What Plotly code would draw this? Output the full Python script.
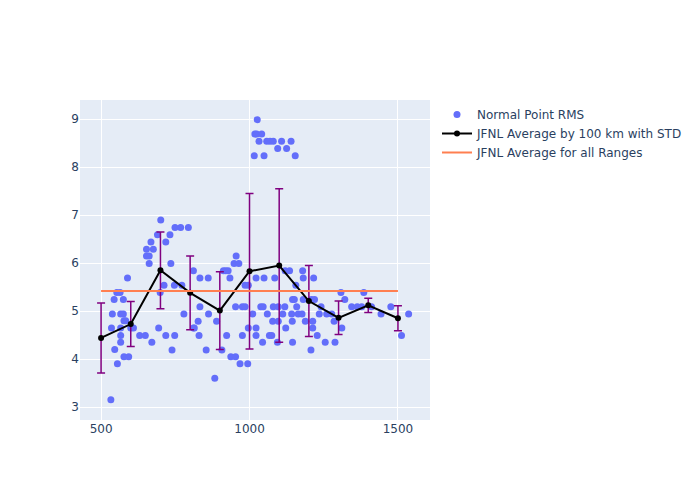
import plotly.graph_objects as go

# Normal point RMS scatter (range km, RMS)
pt_x = [533, 555, 546, 566, 566, 535, 566, 577, 583, 538, 566, 575, 544, 575, 553, 564, 589,
        577, 593, 600, 609, 630, 649, 671, 694, 699, 712, 718, 748, 739, 747, 772, 735, 718,
        732, 690, 653, 676, 668, 653, 662, 662, 701, 749, 768, 794, 811, 833, 861, 833, 779,
        811, 814, 827, 830, 854, 862, 883, 889, 907, 923, 912, 920, 928, 934, 955, 948, 964,
        953, 976, 985, 976, 937, 953, 968, 994, 985, 996, 1011, 996, 1022, 1022, 1022, 1016,
        1018, 1024, 1026, 1032, 1041, 1058, 1069, 1080, 1108, 1140, 1095, 1125, 1049, 1154,
        1049, 1085, 1120, 1135, 1179, 1181, 1216, 1156, 1145, 1151, 1181, 1209, 1219, 1038,
        1046, 1080, 1097, 1119, 1159, 1241, 1060, 1112, 1142, 1164, 1177, 1235, 1260, 1277,
        1078, 1097, 1144, 1188, 1213, 1285, 1122, 1213, 1311, 1067, 1075, 1228, 1044, 1094,
        1145, 1255, 1288, 1207, 1308, 1321, 1344, 1363, 1378, 1411, 1385, 1443, 1476, 1512,
        1536]
pt_y = [3.15, 3.90, 4.20, 4.35, 4.49, 4.65, 4.65, 4.80, 4.80, 4.94, 4.94, 4.94, 5.24, 5.24,
        5.39, 5.39, 5.69, 4.05, 4.05, 4.65, 4.65, 4.49, 4.49, 4.35, 4.65, 5.39, 5.54, 4.49,
        4.49, 4.19, 5.54, 5.54, 5.99, 6.44, 6.59, 6.59, 6.29, 6.29, 6.44, 6.15, 6.15, 5.99,
        6.90, 6.74, 6.74, 6.74, 5.84, 5.69, 5.69, 5.09, 4.94, 4.65, 4.65, 4.79, 4.49, 4.19,
        4.94, 3.60, 4.79, 4.19, 4.49, 5.84, 5.84, 5.84, 5.69, 6.15, 5.99, 5.99, 5.09, 5.09,
        5.09, 4.49, 4.05, 4.05, 3.90, 3.90, 5.54, 5.54, 4.94, 4.65, 4.65, 5.69, 4.49, 8.24,
        8.69, 8.69, 8.99, 8.54, 8.69, 8.54, 8.54, 8.54, 8.54, 8.54, 8.39, 8.39, 8.24, 8.24,
        5.69, 5.69, 5.84, 5.84, 5.84, 5.69, 5.69, 5.54, 5.24, 5.24, 5.24, 5.24, 5.24, 5.09,
        5.09, 5.09, 5.09, 5.09, 5.09, 5.09, 4.94, 4.94, 4.94, 4.94, 4.94, 4.94, 4.94, 4.94,
        4.79, 4.79, 4.79, 4.79, 4.79, 4.79, 4.65, 4.65, 4.65, 4.49, 4.49, 4.49, 4.35, 4.35,
        4.35, 4.35, 4.35, 4.19, 5.39, 5.24, 5.09, 5.09, 5.09, 5.09, 5.39, 4.94, 5.09, 4.49,
        4.94]

# Averages per 100 km bin with standard deviation
bin_x = [500, 600, 700, 800, 900, 1000, 1100, 1200, 1300, 1400, 1500]
bin_mean = [4.44, 4.73, 5.85, 5.38, 5.01, 5.83, 5.95, 5.21, 4.86, 5.12, 4.85]
bin_std = [0.73, 0.47, 0.80, 0.77, 0.81, 1.62, 1.60, 0.74, 0.35, 0.15, 0.26]

# Overall average
all_x = [500, 1500]
all_mean = 5.42

fig = go.Figure()
fig.add_trace(go.Scatter(
    x=pt_x, y=pt_y, mode="markers", name="Normal Point RMS",
    marker=dict(color="#636EFA", size=7)))
fig.add_trace(go.Scatter(
    x=bin_x, y=bin_mean, mode="lines+markers", name="JFNL Average by 100 km with STD",
    line=dict(color="black", width=2), marker=dict(color="black", size=6),
    error_y=dict(type="data", array=bin_std, visible=True, color="purple",
                 thickness=1.5, width=4)))
fig.add_trace(go.Scatter(
    x=all_x, y=[all_mean] * len(all_x), mode="lines", name="JFNL Average for all Ranges",
    line=dict(color="#FF7F50", width=2)))

fig.update_layout(
    width=700, height=500,
    template="plotly",
    font=dict(family="DejaVu Sans"),
    margin=dict(l=72, r=278, t=92, b=88, autoexpand=False),
    xaxis=dict(range=[429, 1608], tickvals=[500, 1000, 1500]),
    yaxis=dict(range=[2.73, 9.4], tickvals=[3, 4, 5, 6, 7, 8, 9]),
    legend=dict(x=1.02, y=1, font=dict(size=12)),
)

fig.write_html("out.html")
